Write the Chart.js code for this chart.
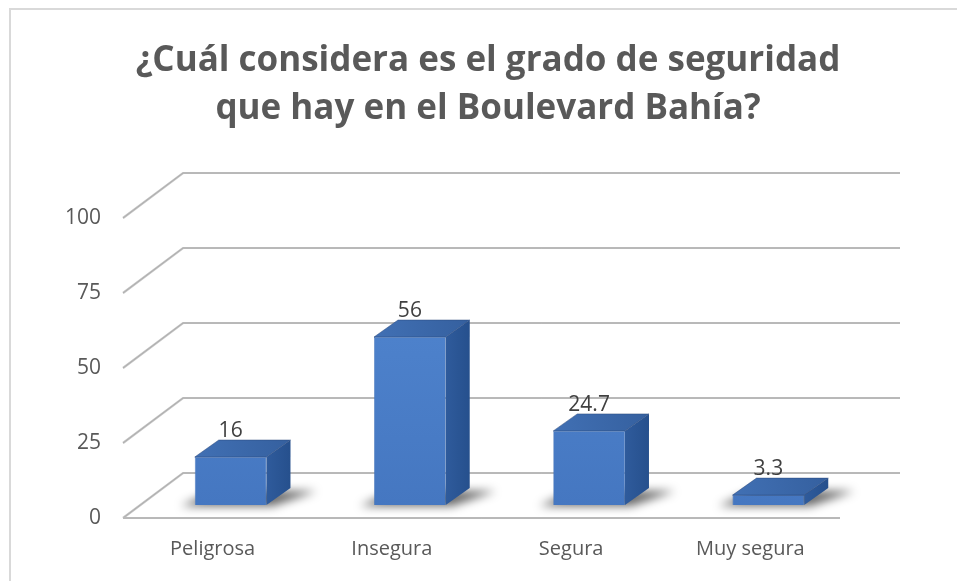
<!DOCTYPE html>
<html>
<head>
<meta charset="utf-8">
<script src="https://cdn.jsdelivr.net/npm/chart.js@4.4.1/dist/chart.umd.min.js"></script>
<style>
  html, body { margin: 0; padding: 0; background: #fff; }
  #wrap { position: relative; width: 957px; height: 581px; overflow: hidden; }
  #frame { position: absolute; left: 9px; top: 8px; right: -10px; bottom: -10px; border: 2px solid #d9d9d9; }
  canvas { position: absolute; left: 0; top: 0; }
</style>
</head>
<body>
<div id="wrap">
  <div id="frame"></div>
  <canvas id="chart" width="957" height="581"></canvas>
</div>
<script>
// datos de la gráfica
const categories = ['Peligrosa', 'Insegura', 'Segura', 'Muy segura'];
const values = [16, 56, 24.7, 3.3];
const yTicks = [0, 25, 50, 75, 100];
const titleLines = ['¿Cuál considera es el grado de seguridad', 'que hay en el Boulevard Bahía?'];

// 3D look (Excel style)
const WALL_DX = 60, WALL_DY = 45;     // depth of the side wall
const SHIFT_X = 18, SHIFT_Y = 13;     // where the bars stand inside the floor
const BOX_DX = 24, BOX_DY = 17;       // depth of each bar
const GRID = '#c4c4c4';

function gridLine(ctx, pts) {
  ctx.beginPath();
  pts.forEach((p, i) => i ? ctx.lineTo(p[0], p[1]) : ctx.moveTo(p[0], p[1]));
  ctx.lineWidth = 2.2;
  ctx.strokeStyle = GRID;
  ctx.stroke();
  ctx.lineWidth = 0.8;
  ctx.strokeStyle = '#a8a8a8';
  ctx.stroke();
}

// title centred over the whole figure, not just the plot area
const titleBlock = {
  id: 'titleBlock',
  afterDraw(chart) {
    const { ctx } = chart;
    ctx.save();
    ctx.font = 'bold 35px "Open Sans"';
    ctx.fillStyle = '#595959';
    ctx.textAlign = 'center';
    ctx.textBaseline = 'alphabetic';
    titleLines.forEach((t, i) => ctx.fillText(t, 488, 71 + i * 48));
    ctx.restore();
  }
};

const bar3d = {
  id: 'bar3d',
  beforeDatasetsDraw(chart) {
    const { ctx, chartArea: a, scales: { y } } = chart;
    ctx.save();
    // side wall + back wall lines
    y.ticks.forEach(t => {
      const py = y.getPixelForValue(t.value);
      gridLine(ctx, [[a.left, py], [a.left + WALL_DX, py - WALL_DY], [a.right + WALL_DX, py - WALL_DY]]);
    });
    // front floor edge
    const p0 = y.getPixelForValue(0);
    gridLine(ctx, [[a.left, p0], [a.right, p0]]);

    // shadows on the floor
    const meta = chart.getDatasetMeta(0);
    ctx.filter = 'blur(5px)';
    meta.data.forEach(bar => {
      const x0 = bar.x - bar.width / 2 + SHIFT_X, x1 = bar.x + bar.width / 2 + SHIFT_X;
      const b = bar.base - SHIFT_Y;
      ctx.beginPath();
      ctx.moveTo(x0 - 14, b + 1);
      ctx.lineTo(x1 + 6, b + 1);
      ctx.lineTo(x1 + BOX_DX + 26, b - BOX_DY + 3);
      ctx.lineTo(x0 + BOX_DX - 4, b - BOX_DY + 3);
      ctx.closePath();
      ctx.fillStyle = 'rgba(0,0,0,0.6)';
      ctx.fill();
    });
    ctx.filter = 'none';
    ctx.restore();

    // front faces are drawn by chart.js, moved into the floor
    ctx.save();
    ctx.translate(SHIFT_X, -SHIFT_Y);
  },
  afterDatasetsDraw(chart) {
    const { ctx } = chart;
    ctx.restore();
    const meta = chart.getDatasetMeta(0);
    ctx.save();
    meta.data.forEach((bar, i) => {
      const x0 = bar.x - bar.width / 2 + SHIFT_X, x1 = bar.x + bar.width / 2 + SHIFT_X;
      const top = bar.y - SHIFT_Y, b = bar.base - SHIFT_Y;
      // right side
      ctx.beginPath();
      ctx.moveTo(x1, b);
      ctx.lineTo(x1 + BOX_DX, b - BOX_DY);
      ctx.lineTo(x1 + BOX_DX, top - BOX_DY);
      ctx.lineTo(x1, top);
      ctx.closePath();
      const gs = ctx.createLinearGradient(x1, 0, x1 + BOX_DX, 0);
      gs.addColorStop(0, '#2f5b9c');
      gs.addColorStop(1, '#26508d');
      ctx.fillStyle = gs;
      ctx.fill();
      // top
      ctx.beginPath();
      ctx.moveTo(x0, top);
      ctx.lineTo(x1, top);
      ctx.lineTo(x1 + BOX_DX, top - BOX_DY);
      ctx.lineTo(x0 + BOX_DX, top - BOX_DY);
      ctx.closePath();
      const gt = ctx.createLinearGradient(x0, top, x1 + BOX_DX, top - BOX_DY);
      gt.addColorStop(0, '#4170b4');
      gt.addColorStop(1, '#35609f');
      ctx.fillStyle = gt;
      ctx.fill();
      ctx.strokeStyle = 'rgba(40,70,120,0.6)';
      ctx.lineWidth = 0.8;
      ctx.stroke();

      // valor
      ctx.font = '21px "Open Sans"';
      ctx.fillStyle = '#404040';
      ctx.textAlign = 'center';
      ctx.textBaseline = 'middle';
      ctx.fillText(String(values[i]), bar.x + SHIFT_X, top - BOX_DY - 9);
    });
    ctx.restore();
  }
};

const ctx = document.getElementById('chart').getContext('2d');
new Chart(ctx, {
  type: 'bar',
  data: {
    labels: categories,
    datasets: [{
      data: values,
      backgroundColor: c => {
        const a = c.chart.chartArea;
        if (!a) return '#4a7cc6';
        const g = c.chart.ctx.createLinearGradient(0, a.top, 0, a.bottom);
        g.addColorStop(0, '#5389d3');
        g.addColorStop(1, '#4577c1');
        return g;
      },
      borderColor: '#3c6cb3',
      borderWidth: 0.6,
      barPercentage: 0.4,
      categoryPercentage: 1
    }]
  },
  options: {
    responsive: false,
    animation: false,
    layout: { padding: { left: 0, right: 117, top: 218, bottom: 0 } },
    scales: {
      x: {
        grid: { display: false, drawTicks: false },
        border: { display: false },
        ticks: { color: '#595959', font: { family: 'Open Sans', size: 20 }, padding: 19 },
        afterFit: s => { s.height = 63; }
      },
      y: {
        min: 0,
        max: 100,
        afterBuildTicks: s => { s.ticks = yTicks.map(v => ({ value: v })); },
        grid: { display: false, drawTicks: false },
        border: { display: false },
        ticks: { color: '#595959', font: { family: 'Open Sans', size: 21 }, padding: 22 },
        afterFit: s => { s.width = 123; }
      }
    },
    plugins: {
      legend: { display: false },
      tooltip: { enabled: false },
      title: { display: false }
    }
  },
  plugins: [bar3d, titleBlock]
});
</script>
</body>
</html>
